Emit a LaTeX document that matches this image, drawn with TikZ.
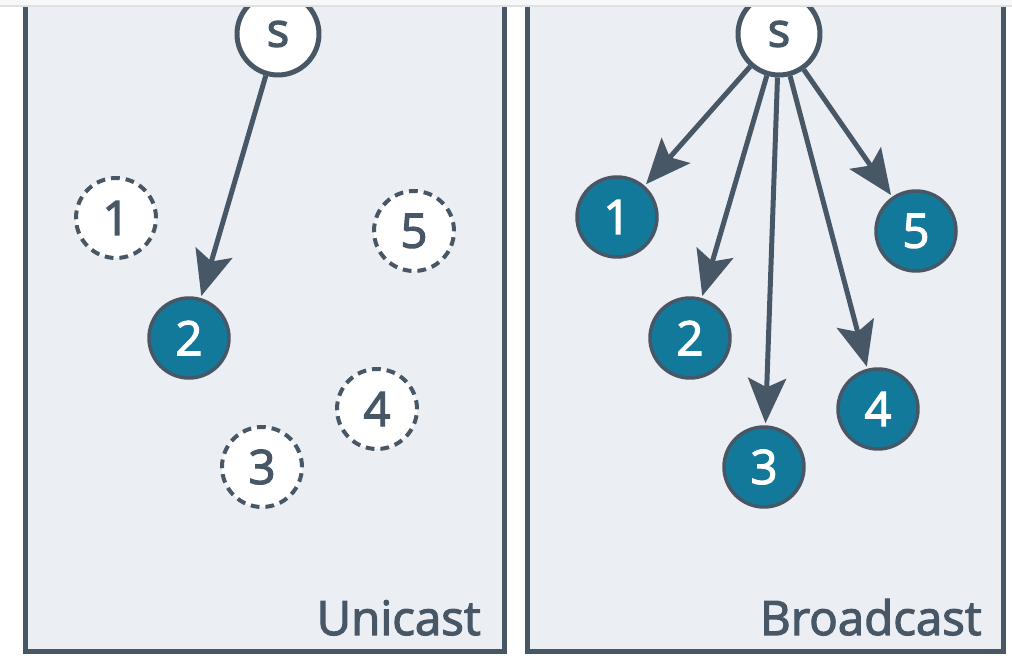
\documentclass[tikz,border=0pt]{standalone}
\usepackage{fontspec}
\setmainfont{Open Sans}
\newfontfamily\peerfont{Open Sans}[FakeBold=2.5]
\usetikzlibrary{arrows.meta}
\definecolor{slate}{HTML}{475766}
\definecolor{panelbg}{HTML}{EBEEF3}
\definecolor{nodeblue}{HTML}{12799B}
\definecolor{topbar}{HTML}{F7F8FA}

\begin{document}
\begin{tikzpicture}[x=0.02cm,y=-0.02cm,
		panel/.style={draw=slate,fill=panelbg,line width=0.1cm},
		peer/.style={circle,minimum size=1.6cm,inner sep=0pt,line width=0.08cm,
			font=\peerfont\fontsize{27}{30}\selectfont},
		src/.style={peer,minimum size=1.64cm,line width=0.1cm,draw=slate,fill=white,text=slate},
		idle/.style={peer,draw=slate,fill=white,text=slate,dash pattern=on 5pt off 3.4pt},
		hit/.style={peer,line width=0.07cm,draw=slate,fill=nodeblue,text=white},
		link/.style={draw=slate,line width=0.1cm,shorten >=0.04cm,
			-{Stealth[length=0.9cm,width=0.76cm,inset=0.18cm]}},
		tag/.style={text=slate,inner sep=0pt,anchor=base east,font=\peerfont\fontsize{27}{30}\selectfont}]
	\useasboundingbox (0,0) rectangle (1012,658);
	\clip (0,0) rectangle (1012,658);
	\draw[panel] (25.5,-40) rectangle (504,652);
	\draw[panel] (527,-40) rectangle (1003.5,652);
	% unicast
	\node[src] (us) at (278,34) {s};
	\node[idle] (u1) at (116,218) {1};
	\node[hit] (u2) at (189,338) {2};
	\node[idle] (u3) at (262,467) {3};
	\node[idle] (u4) at (377,409) {4};
	\node[idle] (u5) at (414,231) {5};
	\draw[link] (us) -- (u2);
	\node[tag] (ulabel) at (481,635) {Unicast};
	% broadcast
	\node[src] (bs) at (779,34) {s};
	\node[hit] (b1) at (617,217) {1};
	\node[hit] (b2) at (690,338) {2};
	\node[hit] (b3) at (764,467) {3};
	\node[hit] (b4) at (878,409) {4};
	\node[hit] (b5) at (916,231) {5};
	\foreach \n in {1,...,5}
		\draw[link] (bs) -- (b\n);
	\node[tag] (blabel) at (982,635) {Broadcast};
	\fill[topbar] (0,0) rectangle (1012,5);
	\draw[black!12,line width=0.03cm] (0,5.8) -- (1012,5.8);
\end{tikzpicture}
\end{document}
